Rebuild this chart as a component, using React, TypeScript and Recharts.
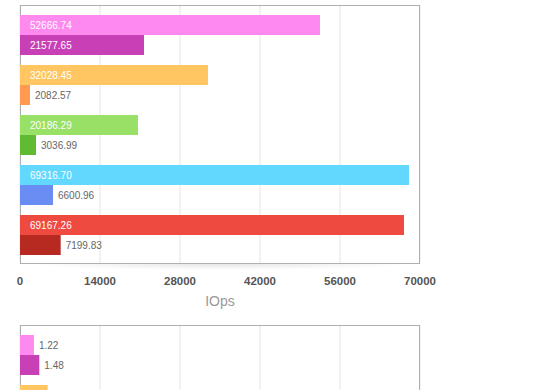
import React from 'react';
import * as R from 'recharts';

const { BarChart, Bar, XAxis, YAxis, CartesianGrid, Cell, LabelList } = R as any;

// Categories (unlabelled rows in the reference)
const categories = ['Run 1', 'Run 2', 'Run 3', 'Run 4', 'Run 5'];

// Top chart: IOps — bar lengths as drawn, and the printed labels
const iopsPrimary = [52500, 32900, 20650, 68075, 67200];
const iopsSecondary = [21700, 1750, 2800, 5775, 7120];
const iopsPrimaryLabels = ['52666.74', '32028.45', '20186.29', '69316.70', '69167.26'];
const iopsSecondaryLabels = ['21577.65', '2082.57', '3036.99', '6600.96', '7199.83'];
const iopsTicks = [0, 14000, 28000, 42000, 56000, 70000];

// Bottom chart (mostly below the visible window)
const latPrimary = [1.22, 2.42, 1.9, 0.9, 0.95];
const latSecondary = [1.69, 2.1, 2.3, 1.2, 1.1];
const latPrimaryLabels = ['1.22', '2.42', '1.90', '0.90', '0.95'];
const latSecondaryLabels = ['1.48', '2.10', '2.30', '1.20', '1.10'];
const latTicks = [0, 7, 14, 21, 28, 35];

const lightColors = ['#FF8AEF', '#FFC661', '#98E066', '#62D8FF', '#EF4A40'];
const darkColors = ['#C840B5', '#FF9A50', '#61BA33', '#6A8DF3', '#B62A22'];

const FONT = '"Liberation Sans", Arial, Helvetica, sans-serif';

const buildRows = (a: number[], b: number[], la: string[], lb: string[]) =>
  categories.map((name, i) => ({ name, a: a[i], b: b[i], la: la[i], lb: lb[i] }));

const iopsRows = buildRows(iopsPrimary, iopsSecondary, iopsPrimaryLabels, iopsSecondaryLabels);
const latRows = buildRows(latPrimary, latSecondary, latPrimaryLabels, latSecondaryLabels);

const ValueLabel = (props: any) => {
  const { x, y, width, height, value } = props;
  if (value == null) return null;
  const text = String(value);
  const tw = text.length * 5.6;
  const inside = width >= tw + 20;
  return (
    <text
      x={inside ? x + 10 : x + width + 5}
      y={y + height / 2}
      dy="0.36em"
      fontSize={10}
      fontFamily={FONT}
      fill={inside ? '#ffffff' : '#666666'}
    >
      {text}
    </text>
  );
};

const usePlot = (R as any).usePlotArea;

const Frame = ({ id, fallback }: { id: string; fallback: any }) => {
  const area = usePlot ? usePlot() : null;
  const a = area || fallback;
  if (!a) return null;
  const { x, y, width, height } = a;
  return (
    <g>
      <defs>
        <radialGradient id={`shadow-${id}`} cx="50%" cy="0%" r="50%" fx="50%" fy="0%">
          <stop offset="0%" stopColor="#000" stopOpacity={0.1} />
          <stop offset="100%" stopColor="#000" stopOpacity={0} />
        </radialGradient>
      </defs>
      <rect x={x + 5} y={y + height} width={width - 10} height={12} fill={`url(#shadow-${id})`} />
      <rect x={x + 0.5} y={y + 0.5} width={width - 1} height={height - 1} fill="none" stroke="#b0b0b0" strokeWidth={1} />
    </g>
  );
};

const W = 560;
const H = 315;
const MARGIN = { top: 5, right: 140, left: 20, bottom: 0 };
const AXIS_H = 51;
const fallbackArea = {
  x: MARGIN.left,
  y: MARGIN.top,
  width: W - MARGIN.left - MARGIN.right,
  height: H - MARGIN.top - AXIS_H,
};

const Panel = ({ id, rows, ticks, axisLabel }: any) => (
  <BarChart
    layout="vertical"
    width={W}
    height={H}
    data={rows}
    margin={MARGIN}
    barGap={0}
    barSize={20}
  >
    <CartesianGrid horizontal={false} stroke="#e6e6e6" />
    <XAxis
      type="number"
      domain={[ticks[0], ticks[ticks.length - 1]]}
      ticks={ticks}
      interval={0}
      axisLine={false}
      tickLine={false}
      tickSize={0}
      tickMargin={13}
      height={AXIS_H}
      tick={{ fontSize: 11.5, fill: '#555', fontWeight: 'bold', fontFamily: FONT }}
      label={
        axisLabel
          ? { value: axisLabel, position: 'insideBottom', offset: 9, fill: '#999', fontSize: 14, fontFamily: FONT }
          : undefined
      }
    />
    <YAxis type="category" dataKey="name" hide padding={{ top: 5, bottom: 4 }} />
    <Bar dataKey="a" isAnimationActive={false}>
      {rows.map((_: any, i: number) => (
        <Cell key={`a${i}`} fill={lightColors[i]} />
      ))}
      <LabelList dataKey="la" content={ValueLabel} />
    </Bar>
    <Bar dataKey="b" isAnimationActive={false}>
      {rows.map((_: any, i: number) => (
        <Cell key={`b${i}`} fill={darkColors[i]} />
      ))}
      <LabelList dataKey="lb" content={ValueLabel} />
    </Bar>
    <Frame id={id} fallback={fallbackArea} />
  </BarChart>
);

export default function App() {
  return (
    <div style={{ fontFamily: FONT }}>
      <div style={{ position: 'absolute', left: 0, top: 0, width: W, height: H }}>
        <Panel id="iops" rows={iopsRows} ticks={iopsTicks} axisLabel="IOps" />
      </div>
      <div style={{ position: 'absolute', left: 0, top: 320, width: W, height: H }}>
        <Panel id="lat" rows={latRows} ticks={latTicks} axisLabel="Latency (ms)" />
      </div>
    </div>
  );
}
